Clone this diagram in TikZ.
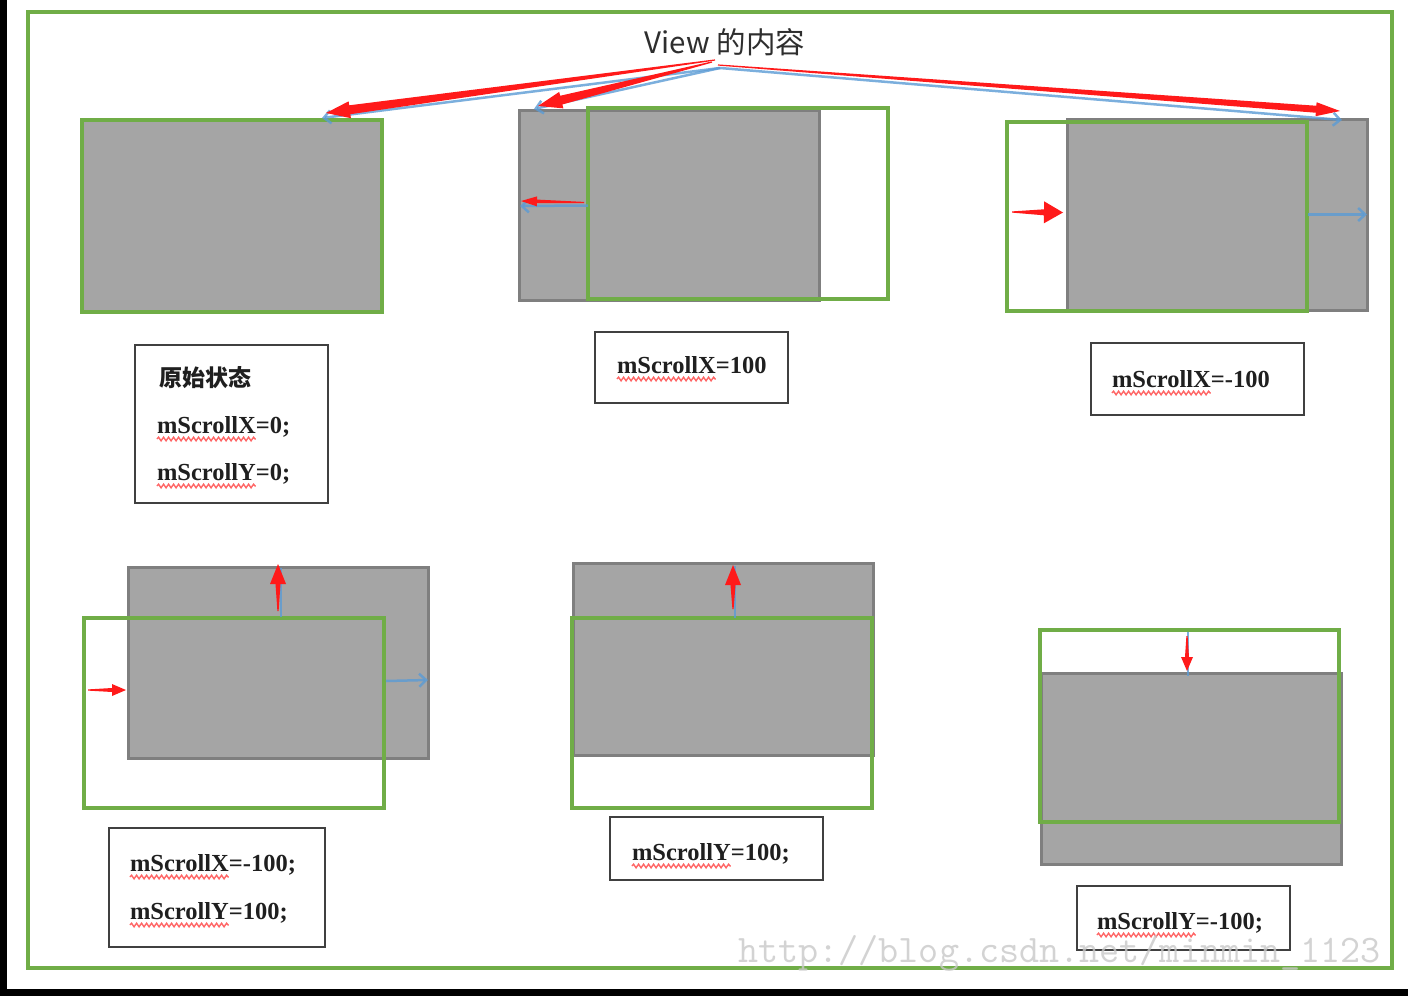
\documentclass[tikz,border=0pt]{standalone}
\usepackage{fontspec}
\setmainfont{Liberation Serif}
\newfontfamily\cjk{Noto Sans CJK SC}
\usetikzlibrary{calc,arrows.meta,decorations.pathmorphing}
\definecolor{vgreen}{HTML}{70AD47}
\definecolor{vgray}{HTML}{A5A5A5}
\definecolor{vdark}{HTML}{7F7F7F}
\definecolor{vblue}{HTML}{5B9BD5}
\definecolor{vred}{HTML}{FF1A1A}
\definecolor{vbox}{HTML}{404040}
\definecolor{wmark}{HTML}{C8C8C8}
% tapered red arrow: #1 start, #2 end, #3 head length, #4 head half width, #5 shaft half width at head
\newcommand\taperarrow[5]{%
  \coordinate (tac) at ($(#2)!#3!(#1)$);
  \fill[vred] ($(#1)!0.6pt!90:(#2)$) -- ($(tac)!#5!-90:(#1)$) -- ($(tac)!#4!-90:(#1)$) -- (#2)
     -- ($(tac)!#4!90:(#1)$) -- ($(tac)!#5!90:(#1)$) -- ($(#1)!0.6pt!-90:(#2)$) -- cycle;}
\begin{document}
\begin{tikzpicture}[x=1pt,y=-1pt,
  grayrect/.style={draw=vdark,fill=vgray,line width=3pt,inner sep=0pt,outer sep=0pt},
  greenrect/.style={draw=vgreen,line width=3.5pt,inner sep=0pt,outer sep=0pt},
  lbox/.style={draw=vbox,line width=2.2pt,fill=white,inner sep=0pt,outer sep=0pt},
  lbl/.style={font=\bfseries\fontsize{24.5}{26}\selectfont,text=black!88,inner sep=0pt,outer sep=0pt,anchor=base west},
  wavy/.style={draw=red!60,line width=1.4pt,decorate,decoration={snake,amplitude=1.8pt,segment length=5pt}},
  bluearrow/.style={draw=vblue,line width=2.5pt,opacity=0.8,-{Straight Barb[length=7pt,width=13pt]}},
  blueline/.style={draw=vblue,line width=2.5pt,opacity=0.8}]
\useasboundingbox (0,0) rectangle (1408,996);
\fill[white] (0,0) rectangle (1408,996);
\fill[black] (0,0) rectangle (7,996);
\fill[black] (0,989) rectangle (1408,996);

% outer frame
\node[greenrect,minimum width=1364pt,minimum height=956pt] (frame) at (710,490) {};

% title
\node[font=\cjk\fontsize{29.5}{31}\selectfont,text=black!82,inner sep=1pt] (title) at (725,42) {View 的内容};

% ---------- panel 1 ----------
\node[grayrect,minimum width=300pt,minimum height=192pt] (gy1) at (232,216) {};
\node[greenrect,minimum width=300pt,minimum height=192pt] (gn1) at (232,216) {};

% ---------- panel 2 ----------
\node[grayrect,minimum width=300pt,minimum height=190pt] (gy2) at (669,205) {};
\node[greenrect,minimum width=300pt,minimum height=191pt] (gn2) at (738,203.5) {};

% ---------- panel 3 ----------
\node[grayrect,minimum width=300pt,minimum height=191pt] (gy3) at (1217,214.5) {};
\node[greenrect,minimum width=300pt,minimum height=189pt] (gn3) at (1157,216.5) {};

% ---------- panel 4 ----------
\node[grayrect,minimum width=300pt,minimum height=191pt] (gy4) at (278,662.5) {};
\node[greenrect,minimum width=300pt,minimum height=190pt] (gn4) at (234,713) {};

% ---------- panel 5 ----------
\node[grayrect,minimum width=300pt,minimum height=192pt] (gy5) at (723,659) {};
\node[greenrect,minimum width=300pt,minimum height=190pt] (gn5) at (722,713) {};

% ---------- panel 6 ----------
\node[grayrect,minimum width=300pt,minimum height=191pt] (gy6) at (1191,768.5) {};
\node[greenrect,minimum width=299pt,minimum height=192pt] (gn6) at (1189.5,726) {};

% ---------- top connectors ----------
\coordinate (ts1) at (715,60);  \coordinate (te1) at (326,113);
\coordinate (ts2) at (712,62);  \coordinate (te2) at (538,106);
\coordinate (ts3) at (718,65);  \coordinate (te3) at (1340,111);
\coordinate (tb) at (720,68);
\coordinate (be1) at (322,118); \coordinate (be2) at (534,109); \coordinate (be3) at (1342,120);
\draw[bluearrow] (tb) -- (be1);
\draw[bluearrow] (tb) -- (be2);
\draw[bluearrow] (tb) -- (be3);
\taperarrow{ts1}{te1}{24pt}{8.5pt}{4.5pt}
\taperarrow{ts2}{te2}{24pt}{8.5pt}{4.5pt}
\taperarrow{ts3}{te3}{24pt}{7pt}{3.5pt}

% ---------- panel 2 arrow ----------
\coordinate (p2s) at ($(gn2.west)+(-4,-1)$);
\coordinate (p2e) at ($(gy2.west)+(2,-4)$);
\draw[bluearrow] ($(gn2.west)+(0,2)$) -- ($(gy2.west)+(1,1)$);
\taperarrow{p2s}{p2e}{16pt}{5pt}{1.8pt}

% ---------- panel 3 arrows ----------
\coordinate (p3s) at (1012,212);
\coordinate (p3e) at ($(gy3.west)+(-4,-2)$);
\taperarrow{p3s}{p3e}{19pt}{11pt}{3pt}
\draw[bluearrow] ($(gn3.east)+(1,-2)$) -- ($(gy3.east)+(0,0)$);

% ---------- panel 4 arrows ----------
\draw[blueline] (281,617) -- (281,568);
\coordinate (p4us) at (278,611);
\coordinate (p4ue) at (278,564);
\taperarrow{p4us}{p4ue}{20pt}{8pt}{2.5pt}
\coordinate (p4rs) at (88,690);
\coordinate (p4re) at ($(gy4.west)+(-2,27.5)$);
\taperarrow{p4rs}{p4re}{14pt}{6pt}{2pt}
\draw[bluearrow] (386,681) -- (428,680);

% ---------- panel 5 arrows ----------
\draw[blueline] (735,618) -- (735,566);
\coordinate (p5us) at (733,609);
\coordinate (p5ue) at (733,565);
\taperarrow{p5us}{p5ue}{20pt}{8pt}{2.5pt}

% ---------- panel 6 arrows ----------
\draw[blueline] (1188,632) -- (1188,676);
\coordinate (p6s) at (1187,636);
\coordinate (p6e) at (1187,671);
\taperarrow{p6s}{p6e}{14pt}{6pt}{2pt}

% ---------- label boxes ----------
\node[lbox,minimum width=193pt,minimum height=158pt] (lb1) at (231.5,424) {};
\node[lbox,minimum width=193pt,minimum height=71pt] (lb2) at (691.5,367.5) {};
\node[lbox,minimum width=213pt,minimum height=72pt] (lb3) at (1197.5,379) {};
\node[lbox,minimum width=216pt,minimum height=119pt] (lb4) at (217,887.5) {};
\node[lbox,minimum width=213pt,minimum height=63pt] (lb5) at (716.5,848.5) {};
\node[lbox,minimum width=213pt,minimum height=64pt] (lb6) at (1183.5,918) {};

% box 1
\node[lbl,font=\cjk\bfseries\fontsize{23}{25}\selectfont] (t1) at (159,386) {原始状态};
\node[lbl] (t2a) at (157,433) {mScrollX};
\node[lbl] (t2b) at (t2a.base east) {=0;};
\draw[wavy] ($(t2a.base west)+(0,6)$) -- ($(t2a.base east)+(0,6)$);
\node[lbl] (t3a) at (157,480) {mScrollY};
\node[lbl] (t3b) at (t3a.base east) {=0;};
\draw[wavy] ($(t3a.base west)+(0,6)$) -- ($(t3a.base east)+(0,6)$);

% box 2
\node[lbl] (t4a) at (617,373) {mScrollX};
\node[lbl] (t4b) at (t4a.base east) {=100};
\draw[wavy] ($(t4a.base west)+(0,6)$) -- ($(t4a.base east)+(0,6)$);

% box 3
\node[lbl] (t5a) at (1112,387) {mScrollX};
\node[lbl] (t5b) at (t5a.base east) {=-100};
\draw[wavy] ($(t5a.base west)+(0,6)$) -- ($(t5a.base east)+(0,6)$);

% box 4
\node[lbl] (t6a) at (130,871) {mScrollX};
\node[lbl] (t6b) at (t6a.base east) {=-100;};
\draw[wavy] ($(t6a.base west)+(0,6)$) -- ($(t6a.base east)+(0,6)$);
\node[lbl] (t7a) at (130,919) {mScrollY};
\node[lbl] (t7b) at (t7a.base east) {=100;};
\draw[wavy] ($(t7a.base west)+(0,6)$) -- ($(t7a.base east)+(0,6)$);

% box 5
\node[lbl] (t8a) at (632,860) {mScrollY};
\node[lbl] (t8b) at (t8a.base east) {=100;};
\draw[wavy] ($(t8a.base west)+(0,6)$) -- ($(t8a.base east)+(0,6)$);

% box 6
\node[lbl] (t9a) at (1097,929) {mScrollY};
\node[lbl] (t9b) at (t9a.base east) {=-100;};
\draw[wavy] ($(t9a.base west)+(0,6)$) -- ($(t9a.base east)+(0,6)$);

% watermark
\node[font=\ttfamily\fontsize{39}{41}\selectfont,text=wmark,opacity=0.8,inner sep=0pt,anchor=base west] (wm) at (738,962) {http://blog.csdn.net/minmin\_1123};
\end{tikzpicture}
\end{document}
